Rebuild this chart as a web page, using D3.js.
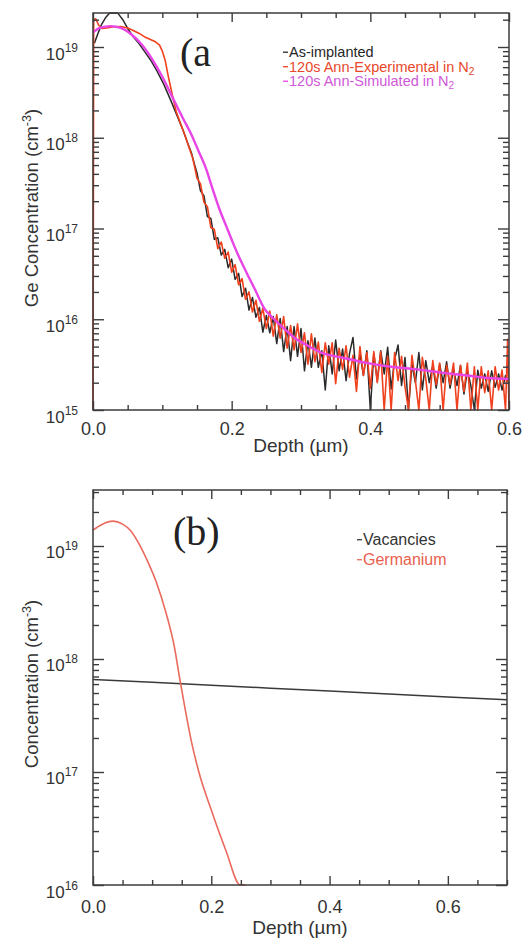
<!DOCTYPE html>
<html>
<head>
<meta charset="utf-8">
<script src="https://cdn.jsdelivr.net/npm/d3@7"></script>
<style>
  html, body { margin: 0; padding: 0; background: #fff; }
  svg { display: block; }
</style>
</head>
<body>
<svg id="chart" width="531" height="943"></svg>
<script>
// ---------- Panel (a): Ge depth profiles, [depth µm, concentration cm^-3] ----------
const asImplanted = [
  [0.002,1.1e19],[0.007,1.4e19],[0.012,1.75e19],[0.018,2.1e19],[0.024,2.4e19],[0.030,2.5e19],[0.036,2.35e19],
  [0.043,2.0e19],[0.050,1.6e19],[0.058,1.3e19],[0.066,1.1e19],[0.074,9.0e18],[0.083,7.2e18],[0.092,5.5e18],
  [0.102,3.9e18],[0.112,2.6e18],[0.122,1.7e18],[0.130,1.2e18],[0.136,9.0e17],[0.142,6.8e17],[0.146,5.2e17],
  [0.150,4.1e17],[0.155,2.6e17],[0.160,2.3e17],[0.165,1.35e17],[0.170,1.29e17],[0.175,7.6e16],[0.180,7.9e16],
  [0.185,5.1e16],[0.190,5.9e16],[0.195,3.7e16],[0.200,4.6e16],[0.205,2.75e16],[0.210,3.2e16],[0.215,1.78e16],
  [0.220,2.2e16],[0.225,1.26e16],[0.230,1.74e16],[0.235,1.05e16],[0.240,1.35e16],[0.245,7.2e15],[0.250,1.1e16],
  [0.255,7.1e15],[0.260,1.07e16],[0.265,5.4e15],[0.270,1.02e16],[0.275,4.4e15],[0.280,8.3e15],[0.285,3.5e15],
  [0.290,8.3e15],[0.295,3.9e15],[0.300,7.9e15],[0.305,2.7e15],[0.310,5.8e15],[0.315,2.95e15],[0.320,6.2e15],
  [0.325,2.95e15],[0.330,4.5e15],[0.335,1.66e15],[0.340,5.1e15],[0.345,2.5e15],[0.350,5.9e15],[0.355,2.7e15],
  [0.360,4.7e15],[0.365,2.1e15],[0.370,4.2e15],[0.375,6.3e15],[0.380,2.2e15],[0.385,4.2e15],[0.390,2.4e15],
  [0.395,4.5e15],[0.400,8.3e14],[0.405,4.2e15],[0.410,2.1e15],[0.415,4.5e15],[0.420,2.5e15],[0.425,4.9e15],
  [0.430,1.7e15],[0.435,3.6e15],[0.440,5.2e15],[0.445,1.86e15],[0.450,3.8e15],[0.455,7.2e14],[0.460,3.2e15],
  [0.465,2.0e15],[0.470,4.3e15],[0.475,1.66e15],[0.480,3.5e15],[0.485,2.0e15],[0.490,3.1e15],[0.495,1.74e15],
  [0.500,3.2e15],[0.505,2.0e15],[0.510,3.4e15],[0.515,1.74e15],[0.520,2.8e15],[0.525,1.86e15],[0.530,3.1e15],
  [0.535,1.5e15],[0.540,2.75e15],[0.545,1.86e15],[0.550,8.3e14],[0.555,2.75e15],[0.560,1.74e15],[0.565,2.5e15],
  [0.570,1.6e15],[0.575,2.7e15],[0.580,1.78e15],[0.585,2.5e15],[0.590,1.66e15],[0.595,2.4e15],[0.600,1.95e15]
];

const annealedExperimental = [
  [0.000,6e14],[0.001,2.0e19],[0.004,2.05e19],[0.008,1.75e19],[0.013,1.6e19],[0.020,1.62e19],[0.030,1.67e19],
  [0.040,1.68e19],[0.050,1.62e19],[0.058,1.52e19],[0.066,1.42e19],[0.074,1.3e19],[0.082,1.22e19],[0.090,1.14e19],
  [0.096,1.05e19],[0.100,9.0e18],[0.104,7.2e18],[0.108,5.0e18],[0.112,3.6e18],[0.116,2.6e18],[0.120,1.95e18],
  [0.126,1.45e18],[0.132,1.1e18],[0.138,8.0e17],[0.144,5.9e17],
  [0.150,3.6e17],[0.155,3.1e17],[0.160,1.95e17],[0.165,1.74e17],[0.170,1.02e17],[0.175,9.8e16],[0.180,6.0e16],
  [0.185,7.1e16],[0.190,4.7e16],[0.195,5.5e16],[0.200,3.3e16],[0.205,4.0e16],[0.210,2.4e16],[0.215,2.8e16],
  [0.220,1.66e16],[0.225,2.0e16],[0.230,1.2e16],[0.235,1.62e16],[0.240,9.5e15],[0.245,1.32e16],[0.250,7.9e15],
  [0.255,1.23e16],[0.260,6.5e15],[0.265,1.12e16],[0.270,6.2e15],[0.275,1.07e16],[0.280,4.8e15],[0.285,8.5e15],
  [0.290,4.6e15],[0.295,8.9e15],[0.300,4.3e15],[0.305,7.1e15],[0.310,3.2e15],[0.315,6.9e15],[0.320,3.4e15],
  [0.325,5.6e15],[0.330,2.6e15],[0.335,5.5e15],[0.340,3.2e15],[0.345,5.5e15],[0.350,1.95e15],[0.355,4.8e15],
  [0.360,2.8e15],[0.365,5.1e15],[0.370,2.3e15],[0.375,4.0e15],[0.380,1.6e15],[0.385,5.0e15],[0.390,2.4e15],
  [0.395,4.3e15],[0.400,1.74e15],[0.405,4.4e15],[0.410,2.0e15],[0.415,4.4e15],[0.420,6e14],[0.425,3.9e15],
  [0.430,6e14],[0.435,4.3e15],[0.440,2.1e15],[0.445,3.9e15],[0.450,1.8e15],[0.455,6e14],[0.460,4.0e15],
  [0.465,2.1e15],[0.470,6e14],[0.475,3.8e15],[0.480,2.2e15],[0.485,6e14],[0.490,3.5e15],[0.495,1.9e15],
  [0.500,3.3e15],[0.505,6e14],[0.510,3.1e15],[0.515,1.9e15],[0.520,3.3e15],[0.525,6e14],[0.530,3.1e15],
  [0.535,1.6e15],[0.540,3.3e15],[0.545,6e14],[0.550,3.0e15],[0.555,6e14],[0.560,3.0e15],[0.565,1.55e15],
  [0.570,2.7e15],[0.575,6e14],[0.580,3.0e15],[0.585,1.66e15],[0.590,2.75e15],[0.595,6e14],[0.598,6.0e15],
  [0.600,6e14]
];

const annealedSimulated = [
  [0.000,1.45e19],[0.010,1.62e19],[0.025,1.70e19],[0.040,1.62e19],[0.055,1.38e19],[0.070,1.07e19],
  [0.085,7.4e18],[0.100,4.7e18],[0.115,2.75e18],[0.130,1.62e18],[0.141,1.12e18],[0.152,7.2e17],
  [0.162,4.8e17],[0.172,2.8e17],[0.182,1.66e17],[0.192,1.07e17],[0.202,6.9e16],[0.212,4.6e16],
  [0.222,3.2e16],[0.234,2.1e16],[0.247,1.32e16],[0.260,1.02e16],[0.271,8.5e15],[0.290,6.3e15],
  [0.310,5.1e15],[0.329,4.3e15],[0.350,3.9e15],[0.372,3.6e15],[0.394,3.3e15],[0.430,3.0e15],
  [0.467,2.8e15],[0.500,2.6e15],[0.539,2.4e15],[0.570,2.25e15],[0.600,2.2e15]
];

// ---------- Panel (b): simulated vacancy and germanium profiles ----------
const vacancies = [
  [0.0,6.6e17],[0.1,6.22e17],[0.2,5.86e17],[0.3,5.52e17],[0.4,5.2e17],[0.5,4.9e17],[0.6,4.62e17],[0.7,4.35e17]
];

const germanium = [
  [0.000,1.38e19],[0.015,1.55e19],[0.034,1.66e19],[0.050,1.56e19],[0.064,1.36e19],[0.079,1.02e19],
  [0.093,7.2e18],[0.107,4.8e18],[0.124,2.5e18],[0.138,1.25e18],[0.146,7.0e17],[0.155,3.8e17],
  [0.167,1.8e17],[0.179,1.0e17],[0.200,4.6e16],[0.225,2.0e16],[0.249,1.0e16],[0.258,7.8e15]
];

// ---------- Axis ranges and ticks ----------
const depthRangeA = [0, 0.6];
const concRangeA = [1e15, 2.37e19];
const depthRangeB = [0, 0.7];
const concRangeB = [1e16, 3.13e19];

const depthMajorA = [0, 0.2, 0.4, 0.6];
const depthMinorA = [0.05, 0.1, 0.15, 0.25, 0.3, 0.35, 0.45, 0.5, 0.55];
const depthMajorB = [0, 0.2, 0.4, 0.6];
const depthMinorB = [0.05, 0.1, 0.15, 0.25, 0.3, 0.35, 0.45, 0.5, 0.55, 0.65, 0.7];
const concMajorA = [1e15, 1e16, 1e17, 1e18, 1e19];
const concMajorB = [1e16, 1e17, 1e18, 1e19];

// ---------- Legends ----------
const legendA = [
  { text: "As-implanted", sub: "" },
  { text: "120s Ann-Experimental in N", sub: "2" },
  { text: "120s Ann-Simulated in N", sub: "2" }
];
const legendB = [ { text: "Vacancies", sub: "" }, { text: "Germanium", sub: "" } ];

const lineColorsA = ["#2a2a2a", "#f0401e", "#e844e6"];
const textColorsA = ["#262626", "#e8472a", "#cf58d8"];
const lineColorsB = ["#3a3a3a", "#ea6a5e"];
const textColorsB = ["#333333", "#e8604e"];

const FONT = '"Liberation Sans", Arial, Helvetica, sans-serif';
const SERIF = '"Liberation Serif", "Times New Roman", serif';
const AXIS_COLOR = "#3c3c3c";

const svg = d3.select("#chart");
const curveLayer = svg.append("g").attr("class", "curves");
const textLayer = svg.append("g").attr("class", "labels");
const axisLayer = svg.append("g").attr("class", "axes");

function isDecade(v) {
  const l = Math.log10(v);
  return Math.abs(l - Math.round(l)) < 1e-6;
}

function styleAxis(sel) {
  sel.select(".domain").remove();
  sel.selectAll(".tick line")
    .attr("stroke", AXIS_COLOR)
    .attr("stroke-width", 1.4);
}

// One boxed log-linear panel: curves held inside the box by clamped scales,
// inward ticks on all four sides, decade labels, axis titles and the panel tag.
function drawPanel(cfg) {
  const { id, box, x, y, xMajor, xMinor, yMajor, yTitle, tag, tagPos } = cfg;

  const curves = curveLayer.append("g").attr("class", "curves-" + id)
    .attr("fill", "none").attr("stroke-linejoin", "round");
  cfg.series.forEach(s => {
    const line = d3.line().x(d => x(d[0])).y(d => y(d[1]))
      .curve(s.smooth ? d3.curveMonotoneX : d3.curveLinear);
    curves.append("path").datum(s.data).attr("d", line)
      .attr("stroke", s.color).attr("stroke-width", s.width);
  });

  const yMinor = y.ticks().filter(v => !isDecade(v));
  const axes = axisLayer.append("g").attr("class", "axes-" + id);

  // bottom
  axes.append("g").attr("transform", `translate(0,${box.bottom})`)
    .call(d3.axisBottom(x).tickValues(xMajor).tickSizeInner(-9).tickSizeOuter(0)
      .tickPadding(cfg.xLabelPad).tickFormat(d3.format(".1f")))
    .attr("font-family", FONT).attr("font-size", 18)
    .call(styleAxis)
    .call(s => s.selectAll(".tick text").attr("fill", "#333"));
  axes.append("g").attr("transform", `translate(0,${box.bottom})`)
    .call(d3.axisBottom(x).tickValues(xMinor).tickSizeInner(-5).tickSizeOuter(0).tickFormat(""))
    .call(styleAxis);
  // top
  axes.append("g").attr("transform", `translate(0,${box.top})`)
    .call(d3.axisTop(x).tickValues(xMajor).tickSizeInner(-9).tickSizeOuter(0).tickFormat(""))
    .call(styleAxis);
  axes.append("g").attr("transform", `translate(0,${box.top})`)
    .call(d3.axisTop(x).tickValues(xMinor).tickSizeInner(-5).tickSizeOuter(0).tickFormat(""))
    .call(styleAxis);
  // left: decades with superscript labels
  axes.append("g").attr("transform", `translate(${box.left},0)`)
    .call(d3.axisLeft(y).tickValues(yMajor).tickSizeInner(-11).tickSizeOuter(0).tickPadding(15).tickFormat(""))
    .attr("font-family", FONT).attr("font-size", 17)
    .call(styleAxis)
    .call(s => s.selectAll(".tick text").each(function (d) {
      const t = d3.select(this).attr("dy", null).attr("y", 12).attr("fill", "#333");
      t.append("tspan").text("10");
      t.append("tspan").attr("dy", -8).attr("font-size", 12).text(Math.round(Math.log10(d)));
    }));
  axes.append("g").attr("transform", `translate(${box.left},0)`)
    .call(d3.axisLeft(y).tickValues(yMinor).tickSizeInner(-6).tickSizeOuter(0).tickFormat(""))
    .call(styleAxis);
  // right
  axes.append("g").attr("transform", `translate(${box.right},0)`)
    .call(d3.axisRight(y).tickValues(yMajor).tickSizeInner(-11).tickSizeOuter(0).tickFormat(""))
    .call(styleAxis);
  axes.append("g").attr("transform", `translate(${box.right},0)`)
    .call(d3.axisRight(y).tickValues(yMinor).tickSizeInner(-6).tickSizeOuter(0).tickFormat(""))
    .call(styleAxis);

  // frame
  axes.append("rect")
    .attr("x", box.left).attr("y", box.top)
    .attr("width", box.right - box.left).attr("height", box.bottom - box.top)
    .attr("fill", "none").attr("stroke", AXIS_COLOR).attr("stroke-width", 1.5);

  // axis titles
  textLayer.append("text")
    .attr("x", (box.left + box.right) / 2).attr("y", cfg.xTitleY)
    .attr("text-anchor", "middle").attr("font-family", FONT).attr("font-size", 19).attr("fill", "#333")
    .text("Depth (µm)");

  const yt = textLayer.append("text")
    .attr("transform", `translate(38,${cfg.yTitleCenter}) rotate(-90)`)
    .attr("text-anchor", "middle").attr("font-family", FONT).attr("font-size", 18.5).attr("fill", "#333");
  yt.append("tspan").text(yTitle + " (cm");
  yt.append("tspan").attr("dy", -7).attr("font-size", 12.5).text("-3");
  yt.append("tspan").attr("dy", 7).text(")");

  // panel tag
  textLayer.append("text").attr("x", tagPos[0]).attr("y", tagPos[1])
    .attr("font-family", SERIF).attr("font-size", 40).attr("fill", "#222").text(tag);
}

function drawLegend(items, lineColors, textColors, x0, y0, dy, size) {
  const lg = textLayer.append("g").attr("class", "legend");
  items.forEach((it, i) => {
    const yy = y0 + i * dy;
    lg.append("line")
      .attr("x1", x0).attr("x2", x0 + 5)
      .attr("y1", yy - size * 0.33).attr("y2", yy - size * 0.33)
      .attr("stroke", lineColors[i]).attr("stroke-width", 1.3);
    const t = lg.append("text").attr("x", x0 + 6).attr("y", yy)
      .attr("font-family", FONT).attr("font-size", size).attr("fill", textColors[i]);
    t.append("tspan").text(it.text);
    if (it.sub) t.append("tspan").attr("dy", 3).attr("font-size", size * 0.7).text(it.sub);
  });
}

// ---------- Panel (a) ----------
const boxA = { left: 93, right: 509, top: 13, bottom: 410 };
drawPanel({
  id: "a", box: boxA,
  x: d3.scaleLinear().domain(depthRangeA).range([boxA.left, boxA.right]).clamp(true),
  y: d3.scaleLog().domain(concRangeA).range([boxA.bottom, boxA.top]).clamp(true),
  xMajor: depthMajorA, xMinor: depthMinorA, yMajor: concMajorA,
  yTitle: "Ge Concentration", yTitleCenter: 208, xLabelPad: 12, xTitleY: 452, tag: "(a", tagPos: [180, 66],
  series: [
    { data: asImplanted, color: lineColorsA[0], width: 1.5, smooth: false },
    { data: annealedExperimental, color: lineColorsA[1], width: 1.6, smooth: false },
    { data: annealedSimulated, color: lineColorsA[2], width: 2.4, smooth: true }
  ]
});
drawLegend(legendA, lineColorsA, textColorsA, 283, 57, 14.5, 14.5);

// ---------- Panel (b) ----------
const boxB = { left: 93, right: 507, top: 490, bottom: 885 };
drawPanel({
  id: "b", box: boxB,
  x: d3.scaleLinear().domain(depthRangeB).range([boxB.left, boxB.right]).clamp(true),
  y: d3.scaleLog().domain(concRangeB).range([boxB.bottom, boxB.top]).clamp(true),
  xMajor: depthMajorB, xMinor: depthMinorB, yMajor: concMajorB,
  yTitle: "Concentration", yTitleCenter: 684, xLabelPad: 15, xTitleY: 934, tag: "(b)", tagPos: [173, 545],
  series: [
    { data: vacancies, color: lineColorsB[0], width: 1.5, smooth: false },
    { data: germanium, color: lineColorsB[1], width: 1.6, smooth: true }
  ]
});
drawLegend(legendB, lineColorsB, textColorsB, 357, 545, 20, 16);
</script>
</body>
</html>
